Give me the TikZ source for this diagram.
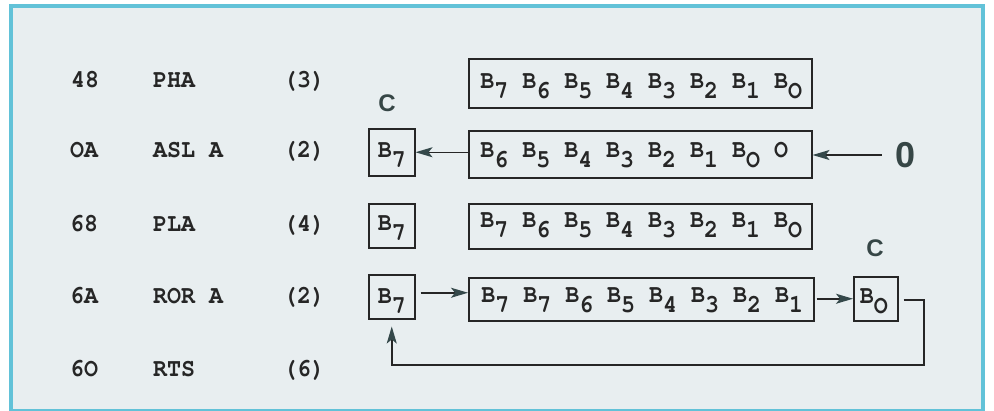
\documentclass[tikz,border=0pt]{standalone}
\usepackage[T1]{fontenc}
\usepackage{graphicx}
\usepackage{fontspec}
\newfontfamily\labfont{Liberation Sans}
\usetikzlibrary{arrows.meta}
\definecolor{bgc}{HTML}{E8EEF0}
\definecolor{framec}{HTML}{62C2D8}
\definecolor{inkc}{HTML}{262626}
\definecolor{tipc}{HTML}{34484A}
\definecolor{labc}{HTML}{364646}
\newcommand\bsub[1]{B\raisebox{-0.37em}{#1}}
\newcommand\cs[1]{\scalebox{0.915}[1]{#1}}
\newcommand\courierfont{\fontencoding{T1}\fontfamily{pcr}\fontseries{b}\fontshape{n}\fontsize{25.5}{30}\selectfont}
\tikzset{
  tt/.style={font=\courierfont, text=inkc, inner sep=0pt},
  code/.style={tt, anchor=base west},
  longbox/.style={tt, draw=inkc, line width=1.5pt, rectangle, minimum width=343pt, anchor=north west},
  smallbox/.style={tt, draw=inkc, line width=1.5pt, rectangle, minimum width=46pt, anchor=north west},
  flag/.style={font=\labfont\bfseries\fontsize{24}{28}\selectfont, text=labc, inner sep=0pt},
  conn/.style={draw=inkc, line width=1.5pt, -{Stealth[length=17pt,width=10pt,inset=4pt,color=tipc]}}
}
\begin{document}
\begin{tikzpicture}[x=1pt,y=-1pt]
\useasboundingbox (0,0) rectangle (994,410);
\fill[white] (0,0) rectangle (994,410);
\filldraw[fill=bgc, draw=framec, line width=3.5pt] (11,6) rectangle (983,411);

% code listing
\node[code] (h1) at (71,87) {\cs{48}};
\node[code] (m1) at (153,87) {\cs{PHA}};
\node[code] (c1) at (283,87) {\cs{(3)}};
\node[code] (h2) at (70,157) {\cs{OA}};
\node[code] (m2) at (153,157) {\cs{ASL A}};
\node[code] (c2) at (283,157) {\cs{(2)}};
\node[code] (h3) at (70,231) {\cs{68}};
\node[code] (m3) at (153,231) {\cs{PLA}};
\node[code] (c3) at (283,231) {\cs{(4)}};
\node[code] (h4) at (70,303) {\cs{6A}};
\node[code] (m4) at (153,303) {\cs{ROR A}};
\node[code] (c4) at (283,303) {\cs{(2)}};
\node[code] (h5) at (70,376) {\cs{6O}};
\node[code] (m5) at (153,376) {\cs{RTS}};
\node[code] (c5) at (283,376) {\cs{(6)}};

% row 1
\node[longbox, minimum height=49pt, text height=14pt, text depth=3pt] (l1) at (468,58)
  {\makebox[320pt][l]{\cs{\bsub7 \bsub6 \bsub5 \bsub4 \bsub3 \bsub2 \bsub1 \bsub{O}}}};

% row 2
\node[flag] (ca) at (387,103) {C};
\node[smallbox, minimum height=47pt, text height=14pt, text depth=3pt] (b7a) at (368,128) {\cs{\bsub7}};
\node[longbox, minimum height=47pt, text height=13pt, text depth=6pt] (l2) at (468,130)
  {\makebox[320pt][l]{\cs{\bsub6 \bsub5 \bsub4 \bsub3 \bsub2 \bsub1 \bsub{O} O}}};
\node[font=\labfont\bfseries\fontsize{36}{40}\selectfont, text=labc, inner ysep=0pt, inner xsep=14pt] (zero) at (906,155) {0};
\draw[conn] (b7a.east -| l2.west) -- (b7a.east);
\draw[conn] (zero.west) -- (zero.west -| l2.east);

% row 3
\node[smallbox, minimum height=44pt, text height=14pt, text depth=4pt] (b7b) at (368,203) {\cs{\bsub7}};
\node[longbox, minimum height=45pt, text height=13pt, text depth=10pt] (l3) at (468,203)
  {\makebox[320pt][l]{\cs{\bsub7 \bsub6 \bsub5 \bsub4 \bsub3 \bsub2 \bsub1 \bsub{O}}}};

% row 4
\node[smallbox, minimum height=44pt, text height=14pt, text depth=0pt] (b7c) at (368,274) {\cs{\bsub7}};
\node[longbox, minimum width=345pt, minimum height=43pt, text height=13pt, text depth=6pt] (l4) at (468,277)
  {\makebox[320pt][l]{\cs{\bsub7 \bsub7 \bsub6 \bsub5 \bsub4 \bsub3 \bsub2 \bsub1}}};
\node[flag] (cb) at (875,248) {C};
\node[smallbox, minimum width=44pt, minimum height=44pt, text height=14pt, text depth=4pt] (cbox) at (853,276) {\cs{\bsub{O}}\hspace*{4pt}};
\draw[conn, shorten <=5pt] ([yshift=4pt]b7c.east) -- ([yshift=4pt]b7c.east -| l4.west);
\draw[conn, shorten <=2pt] (cbox.west -| l4.east) -- (cbox.west);
\coordinate (ret) at (924,365);
\draw[conn, shorten <=5pt, shorten >=7pt] ([yshift=-1pt]cbox.east) -| (ret) -| (b7c.south);
\end{tikzpicture}
\end{document}
